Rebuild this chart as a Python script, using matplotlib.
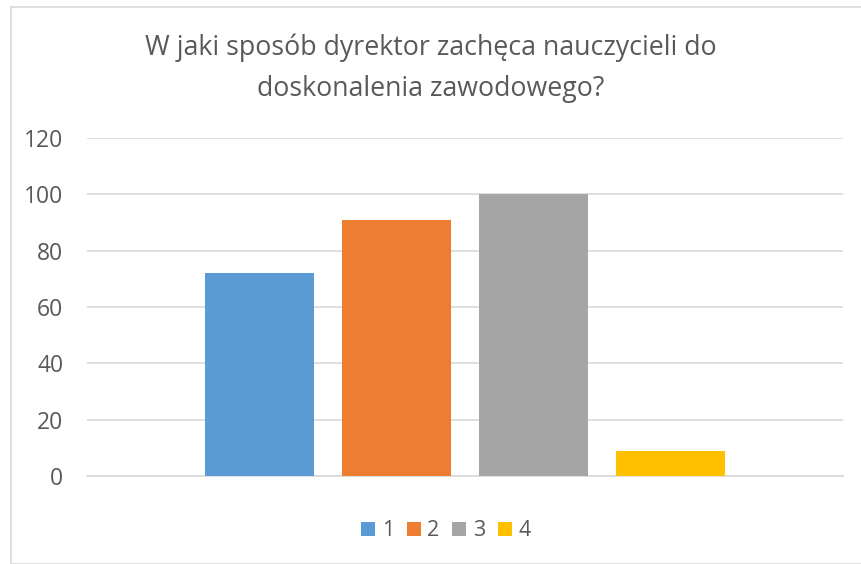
import matplotlib.pyplot as plt
from matplotlib.patches import Rectangle

# dane
serie = ['1', '2', '3', '4']
wartosci = [72, 91, 100, 9]
kolory = ['#5B9BD5', '#ED7D31', '#A5A5A5', '#FFC000']
yticks = [0, 20, 40, 60, 80, 100, 120]
tytul = 'W jaki sposób dyrektor zachęca nauczycieli do\ndoskonalenia zawodowego?'

plt.rcParams['font.family'] = ['Open Sans', 'DejaVu Sans']

fig = plt.figure(figsize=(8.62, 5.64), dpi=100)
# ramka wykresu jak w Excelu
fig.patches.append(Rectangle((11 / 862, 0.0), 1.0, 1 - 7 / 564, transform=fig.transFigure,
                             fill=False, edgecolor='#D9D9D9', linewidth=1.2))

ax = fig.add_axes([87 / 862, 1 - 476 / 564, 756 / 862, 338 / 564])

szer = 0.144
krok = 0.1812
for i, (s, v, k) in enumerate(zip(serie, wartosci, kolory)):
    ax.bar((i - 1.5) * krok, v, width=szer, color=k, label=s, zorder=3)

ax.set_xlim(-0.5, 0.5)
ax.set_ylim(0, 120)
ax.set_yticks(yticks)
ax.set_xticks([])
ax.tick_params(axis='y', length=0, pad=17, labelsize=16.5, labelcolor='#595959')
ax.grid(axis='y', color='#D9D9D9', linewidth=1.2, zorder=0)
for sp in ['top', 'right', 'left']:
    ax.spines[sp].set_visible(False)
ax.spines['bottom'].set_color('#D9D9D9')
ax.spines['bottom'].set_linewidth(1.2)

fig.text(0.5, 1 - 68 / 564, tytul, ha='center', va='center', fontsize=19.3,
         color='#595959', linespacing=1.6)

leg = fig.legend(loc='center', bbox_to_anchor=(446 / 862, 1 - 531 / 564), ncol=4,
                 frameon=False, fontsize=15.5, handlelength=0.65, handleheight=0.65,
                 handletextpad=0.3, columnspacing=0.6, borderaxespad=0)
for t in leg.get_texts():
    t.set_color('#595959')

fig.savefig('out.png', dpi=100)
